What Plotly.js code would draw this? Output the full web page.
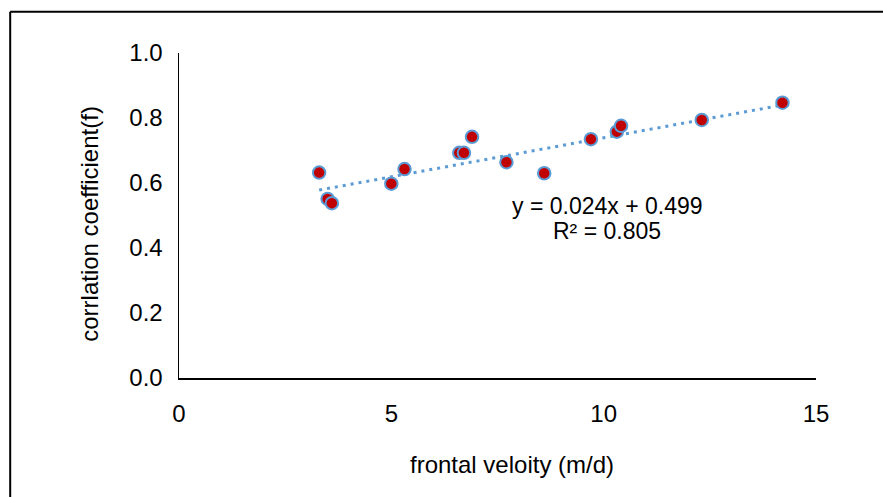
<!DOCTYPE html>
<html>
<head>
<meta charset="utf-8">
<script src="https://cdn.plot.ly/plotly-3.0.1.min.js"></script>
<style>
html,body{margin:0;padding:0;background:#fff;}
#chart{width:883px;height:497px;}
</style>
</head>
<body>
<div id="chart"></div>
<script>
// Data
const frontalVelocity = [3.30, 3.50, 3.60, 5.00, 5.31, 6.60, 6.71, 6.90, 7.71, 8.60, 9.70, 10.31, 10.41, 12.31, 14.21];
const correlationCoef = [0.632, 0.551, 0.538, 0.598, 0.643, 0.693, 0.693, 0.742, 0.664, 0.630, 0.735, 0.758, 0.776, 0.794, 0.847];
const trendSlope = 0.024;
const trendIntercept = 0.499;
const trendLabel = "y = 0.024x + 0.499";
const r2Label = "R² = 0.805";
const xTitle = "frontal veloity (m/d)";
const yTitle = "corrlation coefficient(f)";
const xTicks = [0, 5, 10, 15];
const yTicks = [0, 0.2, 0.4, 0.6, 0.8, 1.0];

const xMin = Math.min(...frontalVelocity);
const xMax = Math.max(...frontalVelocity);
const trendX = [xMin, xMax];
const trendY = trendX.map(x => trendSlope * x + trendIntercept);

const family = 'Arial, "Liberation Sans", sans-serif';
const font = {family: family, size: 24, color: '#000'};
const annFont = {family: family, size: 23, color: '#000'};

const traces = [
  {
    x: trendX, y: trendY, type: 'scatter', mode: 'lines',
    line: {color: '#5B9BD5', width: 3, dash: '3px,5px'},
    hoverinfo: 'skip', showlegend: false
  },
  {
    x: frontalVelocity, y: correlationCoef, type: 'scatter', mode: 'markers',
    marker: {size: 12.5, color: '#C00000', line: {color: '#5B9BD5', width: 2}},
    showlegend: false
  }
];

const layout = {
  width: 883, height: 497,
  margin: {l: 179, r: 67, t: 53, b: 119},
  paper_bgcolor: '#fff', plot_bgcolor: '#fff',
  font: font,
  showlegend: false,
  xaxis: {
    range: [0, 15], tickvals: xTicks, ticktext: xTicks.map(String),
    showgrid: false, zeroline: false, showline: true, linecolor: '#000', linewidth: 1.5,
    ticks: '', ticklabelstandoff: 14, tickfont: font
  },
  yaxis: {
    range: [0, 1], tickvals: yTicks, ticktext: yTicks.map(v => v.toFixed(1)),
    showgrid: false, zeroline: false, showline: true, linecolor: '#000', linewidth: 1.5,
    ticks: '', ticklabelstandoff: 10, tickfont: font
  },
  annotations: [
    {xref: 'paper', yref: 'paper', x: 0.523, y: -0.265, text: xTitle, showarrow: false, font: font, xanchor: 'center', yanchor: 'middle'},
    {xref: 'paper', yref: 'paper', x: -0.14, y: 0.474, text: yTitle, textangle: -90, showarrow: false, font: font, xanchor: 'center', yanchor: 'middle'},
    {xref: 'paper', yref: 'paper', x: 0.672, y: 0.529, text: trendLabel, showarrow: false, font: annFont, xanchor: 'center', yanchor: 'middle'},
    {xref: 'paper', yref: 'paper', x: 0.672, y: 0.452, text: r2Label, showarrow: false, font: annFont, xanchor: 'center', yanchor: 'middle'}
  ],
  shapes: [
    {type: 'line', xref: 'paper', yref: 'paper', x0: -0.265, x1: -0.265, y0: 1.127, y1: -0.37, line: {color: '#000', width: 2}},
    {type: 'line', xref: 'paper', yref: 'paper', x0: -0.265, x1: 1.11, y0: 1.127, y1: 1.127, line: {color: '#000', width: 2}}
  ]
};

Plotly.newPlot('chart', traces, layout, {displayModeBar: false, staticPlot: true});
</script>
</body>
</html>
